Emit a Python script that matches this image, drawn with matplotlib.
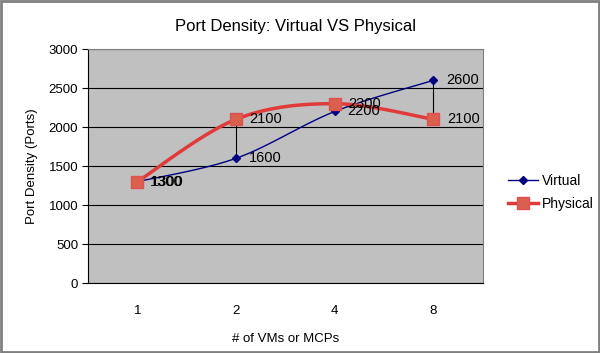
import numpy as np
import matplotlib
matplotlib.use("Agg")
import matplotlib.pyplot as plt
from matplotlib.patches import Rectangle
from matplotlib.lines import Line2D

plt.rcParams['font.family'] = ['Liberation Sans', 'DejaVu Sans']

categories = ["1", "2", "4", "8"]
virtual = [1300, 1600, 2200, 2600]
physical = [1300, 2100, 2300, 2100]
yticks = [0, 500, 1000, 1500, 2000, 2500, 3000]


def smooth(xs, ys, n=40):
    # Excel-like smoothing: cubic Bezier with Catmull-Rom control points
    xs = np.asarray(xs, float)
    ys = np.asarray(ys, float)
    px, py = [], []
    m = len(xs)
    for i in range(m - 1):
        x0, y0 = (xs[i - 1], ys[i - 1]) if i > 0 else (xs[i], ys[i])
        x1, y1 = xs[i], ys[i]
        x2, y2 = xs[i + 1], ys[i + 1]
        x3, y3 = (xs[i + 2], ys[i + 2]) if i + 2 < m else (xs[i + 1], ys[i + 1])
        c1x, c1y = x1 + (x2 - x0) / 6, y1 + (y2 - y0) / 6
        c2x, c2y = x2 - (x3 - x1) / 6, y2 - (y3 - y1) / 6
        t = np.linspace(0, 1, n)
        bx = (1 - t) ** 3 * x1 + 3 * (1 - t) ** 2 * t * c1x + 3 * (1 - t) * t ** 2 * c2x + t ** 3 * x2
        by = (1 - t) ** 3 * y1 + 3 * (1 - t) ** 2 * t * c1y + 3 * (1 - t) * t ** 2 * c2y + t ** 3 * y2
        px.extend(bx)
        py.extend(by)
    return np.array(px), np.array(py)


fig = plt.figure(figsize=(6.0, 3.53), dpi=100)
fig.patch.set_facecolor('white')
fig.add_artist(Rectangle((0.002, 0.003), 0.996, 0.994, transform=fig.transFigure,
                         fill=False, edgecolor='#808080', linewidth=2))

ax = fig.add_axes([0.1467, 0.198, 0.658, 0.663])
ax.set_facecolor('#c0c0c0')
x = np.arange(len(categories))

ax.set_xlim(-0.5, len(categories) - 0.5)
ax.set_ylim(0, 3000)
ax.set_yticks(yticks)
ax.set_yticklabels([str(v) for v in yticks], fontsize=9.5)
ax.set_xticks(x)
ax.set_xticklabels(categories, fontsize=9.5)
ax.tick_params(axis='x', length=0, pad=16)
ax.tick_params(axis='y', direction='out', length=4, width=0.8, color='black', pad=3)
ax.yaxis.grid(True, color='#000000', linewidth=0.8)
ax.set_axisbelow(True)
for s in ['top', 'right']:
    ax.spines[s].set_color('#808080')
    ax.spines[s].set_linewidth(0.8)
for s in ['left', 'bottom']:
    ax.spines[s].set_color('black')
    ax.spines[s].set_linewidth(0.8)

# high-low lines
for xi, v, p in zip(x, virtual, physical):
    ax.plot([xi, xi], [min(v, p), max(v, p)], color='black', linewidth=0.8, zorder=2)

sx, sy = smooth(x, virtual)
ax.plot(sx, sy, color='#000080', linewidth=1.0, zorder=3)
ax.plot(x, virtual, linestyle='none', marker='D', markersize=4.5,
        color='#000080', zorder=4, label='Virtual')

sx, sy = smooth(x, physical)
ax.plot(sx, sy, color='#e03a3a', linewidth=2.5, zorder=3)
ax.plot(x, physical, linestyle='none', marker='s', markersize=9,
        markerfacecolor='#d8604c', markeredgecolor='#e05050', markeredgewidth=1,
        zorder=5, label='Physical')

# data labels
vlab_off = [(9, 0), (9, 0), (9, 0), (9, 0)]
plab_off = [(9.5, 0), (9.5, 0), (10, 0), (10, 0)]
for xi, v, off in zip(x, virtual, vlab_off):
    ax.annotate(str(v), (xi, v), xytext=off, textcoords='offset points',
                fontsize=10.5, va='center', ha='left', zorder=6)
for xi, p, off in zip(x, physical, plab_off):
    ax.annotate(str(p), (xi, p), xytext=off, textcoords='offset points',
                fontsize=10.5, va='center', ha='left', zorder=6)

ax.set_ylabel('Port Density (Ports)', fontsize=9.5, labelpad=8)
ax.set_xlabel('# of VMs or MCPs', fontsize=9.5, labelpad=11)
fig.text(0.493, 0.926, 'Port Density: Virtual VS Physical', ha='center', va='center', fontsize=12)

handles = [Line2D([0], [0], color='#000080', lw=1.0, marker='D', markersize=4.5),
           Line2D([0], [0], color='#e03a3a', lw=2.5, marker='s', markersize=8,
                  markerfacecolor='#d8604c', markeredgecolor='#e05050')]
fig.legend(handles, ['Virtual', 'Physical'], loc='center left',
           bbox_to_anchor=(0.825, 0.455), frameon=False, fontsize=10,
           handlelength=2.2, handletextpad=0.3, labelspacing=0.7)

fig.savefig('out.png', dpi=100)
